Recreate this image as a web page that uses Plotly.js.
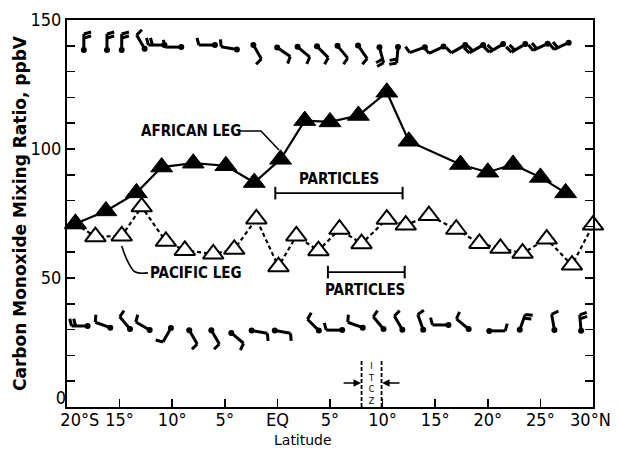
<!DOCTYPE html>
<html><head><meta charset="utf-8">
<script src="https://cdn.plot.ly/plotly-3.0.1.min.js"></script>
<style>html,body{margin:0;padding:0;background:#fff}#chart{width:619px;height:458px}</style>
</head><body><div id="chart"></div>
<script>
// ---- data ----
const africanLat = [-19.2, -16.3, -13.4, -11.0, -8.0, -4.9, -2.2, 0.3, 2.6, 5.0, 7.7, 10.4, 12.5, 17.4, 20.0, 22.4, 25.0, 27.4];
const africanCO  = [71, 76, 83, 93, 94.5, 93.5, 87, 96, 111, 110.5, 113, 122, 103, 94, 91, 94, 89, 83];

const pacificLat = [-19.2, -17.3, -14.8, -12.9, -10.6, -8.8, -6.1, -4.1, -2.0, 0.1, 1.8, 3.9, 5.9, 8.0, 10.4, 12.2, 14.4, 17.0, 19.2, 21.2, 23.3, 25.6, 28.0, 30.0];
const pacificCO  = [71, 66, 66.3, 77.6, 64.2, 60.7, 59.3, 61.1, 72.9, 54.4, 66.3, 60.6, 68.9, 63.3, 72.8, 70.5, 74.2, 68.9, 63.4, 61.5, 59.6, 65.1, 55, 70.5];

const xTickVals = [-20, -15, -10, -5, 0, 5, 10, 15, 20, 25, 30];
const xTickText = ['\u00a0\u00a0\u00a0\u00a0\u00a020°S', '15°', '10°', '5°', 'EQ', '5°', '10°', '15°', '20°', '25°', '30°N\u00a0'];
const yTickVals = [0, 10, 20, 30, 40, 50, 60, 70, 80, 90, 100, 110, 120, 130, 140, 150];
const yTickText = ['', '', '', '', '', '50', '', '', '', '', '100', '', '', '', '', '150'];
const yZeroTickVals = [0];
const yZeroTickText = ['0'];

// wind barbs (position, staff direction in degrees, number of feathers)
const topBarbLat = [-18.4, -16.2, -14.8, -13.0, -11.5, -9.9, -6.7, -4.6, -1.9, 0.6, 2.5, 4.3, 6.2, 8.1, 9.9, 11.4, 13.3, 15.1, 17.2, 18.9, 20.8, 22.9, 25.0, 27.0];
const topBarbCO  = [141.5, 141.5, 141.5, 141.5, 140.3, 139.5, 140.3, 139.1, 137.6, 137.6, 137.6, 137.6, 137.6, 137.6, 136.4, 136.4, 138.4, 138.4, 138.8, 138.8, 139.1, 139.1, 139.5, 139.9];
const topBarbDir = [90, 90, 90, 120, 180, 180, 180, 170, -60, -35, -40, -45, -50, -55, -75, -95, 200, 205, 210, 210, 210, 210, 205, 205];
const topBarbN   = [2, 2, 2, 1, 2, 1, 1, 1, 1, 1, 1, 1, 1, 1, 2, 2, 1, 1, 1, 2, 2, 2, 2, 2];
const topBarbSide = topBarbN.map(() => 1);

const botBarbLat = [-18.8, -16.6, -14.5, -12.8, -10.5, -8.0, -5.9, -3.8, -1.7, 0.5, 3.4, 5.4, 7.4, 9.6, 11.5, 13.6, 15.5, 17.6, 20.9, 23.3, 26.2, 28.8];
const botBarbCO  = [31.4, 31.8, 32.6, 31.4, 27.9, 27.1, 27.1, 26.7, 29.1, 29.1, 31.8, 29.8, 31.8, 32.6, 32.6, 32.9, 31.8, 32.2, 29.5, 32.9, 32.9, 32.6];
const botBarbDir = [180, 160, 130, 150, 240, -60, -60, -40, -10, -10, 135, 180, 160, 130, 120, 110, 180, 140, 0, 70, 100, 95];
const botBarbN   = [2, 1, 1, 1, 1, 1, 1, 1, 1, 1, 1, 1, 1, 1, 1, 1, 1, 1, 1, 2, 1, 2];
const botBarbSide = [1, 1, 1, 1, 1, 1, 1, 1, 1, 1, 1, 1, 1, 1, 1, 1, 1, 1, -1, 1, 1, 1];

const particlesAfricanLat = [-0.2, 11.9];
const particlesAfricanCO = 82.9;
const particlesPacificLat = [4.8, 12.1];
const particlesPacificCO = 52.3;
const itczLat = [8.0, 9.9];
const itczTopCO = 17.8;
const itczLabel = 'I<br>T<br>C<br>Z';

const africanLeaderLat = [-3.65, -1.56, 0.15];
const africanLeaderCO  = [107, 107, 99.6];
const pacificLeaderLat = [-12.3, -13.5, -14.2, -14.8];
const pacificLeaderCO  = [52, 52.3, 56.2, 62.4];

// ---- layout geometry ----
const W = 619, H = 458, M = {l: 67, r: 26, t: 20, b: 51, pad: 0};
const xRange = [-20, 30], yRange = [0, 150];
const pxLat = (W - M.l - M.r) / (xRange[1] - xRange[0]);
const pxCO = (H - M.t - M.b) / (yRange[1] - yRange[0]);
const narrow = 'Liberation Sans Narrow, DejaVu Sans Condensed, Arial Narrow, sans-serif';

function barbTraces(lat, co, dir, nf, side) {
  const xs = [], ys = [], bx = [], by = [];
  const L = 16, F = 7.5, S = 4;
  for (let i = 0; i < lat.length; i++) {
    const a = dir[i] * Math.PI / 180, ux = Math.cos(a), uy = Math.sin(a);
    const P = (dx, dy) => [lat[i] + dx / pxLat, co[i] + dy / pxCO];
    const b = P(-ux * L / 2, -uy * L / 2), t = P(ux * L / 2, uy * L / 2);
    xs.push(b[0], t[0], null); ys.push(b[1], t[1], null);
    const fa = a - side[i] * 75 * Math.PI / 180;
    for (let k = 0; k < nf[i]; k++) {
      const s = L / 2 - k * S;
      const p0 = P(ux * s, uy * s), p1 = P(ux * s + Math.cos(fa) * F, uy * s + Math.sin(fa) * F);
      xs.push(p0[0], p1[0], null); ys.push(p0[1], p1[1], null);
    }
    bx.push(b[0]); by.push(b[1]);
  }
  return [
    {x: xs, y: ys, mode: 'lines', line: {color: '#000', width: 3}, hoverinfo: 'skip', showlegend: false, cliponaxis: false},
    {x: bx, y: by, mode: 'markers', marker: {color: '#000', size: 6}, hoverinfo: 'skip', showlegend: false, cliponaxis: false}
  ];
}

const traces = [];
traces.push(...barbTraces(topBarbLat, topBarbCO, topBarbDir, topBarbN, topBarbSide));
traces.push(...barbTraces(botBarbLat, botBarbCO, botBarbDir, botBarbN, botBarbSide));

// leaders
traces.push({x: africanLeaderLat, y: africanLeaderCO, mode: 'lines', line: {color: '#000', width: 1.6}, hoverinfo: 'skip', showlegend: false});
traces.push({x: pacificLeaderLat, y: pacificLeaderCO, mode: 'lines', line: {color: '#000', width: 1.6, shape: 'spline'}, hoverinfo: 'skip', showlegend: false});

// particles bars
function bar(latPair, co) {
  return {x: latPair, y: [co, co], mode: 'lines+markers',
    line: {color: '#000', width: 1.8},
    marker: {symbol: 'line-ns', size: 9, line: {color: '#000', width: 2}},
    hoverinfo: 'skip', showlegend: false};
}
traces.push(bar(particlesAfricanLat, particlesAfricanCO));
traces.push(bar(particlesPacificLat, particlesPacificCO));

// ITCZ dashed lines
itczLat.forEach(l => traces.push({x: [l, l], y: [0, itczTopCO], mode: 'lines',
  line: {color: '#000', width: 1.8, dash: '4px,2px'}, hoverinfo: 'skip', showlegend: false}));

// series
traces.push({name: 'Pacific leg', x: pacificLat, y: pacificCO, mode: 'lines+markers',
  line: {color: '#000', width: 2.2, dash: '4px,3px'},
  marker: {symbol: 'triangle-up', size: 18, color: '#fff', line: {color: '#000', width: 2}},
  cliponaxis: false, showlegend: false});
traces.push({name: 'African leg', x: africanLat, y: africanCO, mode: 'lines+markers',
  line: {color: '#000', width: 2.2},
  marker: {symbol: 'triangle-up', size: 19, color: '#000', line: {color: '#000', width: 1}},
  cliponaxis: false, showlegend: false});
// carrier for the zero-label axis
traces.push({x: [null], y: [null], yaxis: 'y2', mode: 'markers', hoverinfo: 'skip', showlegend: false});

const annFont = {family: narrow, size: 15, color: '#000'};
const annotations = [
  {x: -8.2, y: 107, xref: 'x', yref: 'y', text: '<b>AFRICAN LEG</b>', showarrow: false, font: annFont},
  {x: -7.7, y: 51.8, xref: 'x', yref: 'y', text: '<b>PACIFIC LEG</b>', showarrow: false, font: annFont},
  {x: 5.9, y: 88.2, xref: 'x', yref: 'y', text: '<b>PARTICLES</b>', showarrow: false, font: annFont},
  {x: 8.3, y: 45.2, xref: 'x', yref: 'y', text: '<b>PARTICLES</b>', showarrow: false, font: annFont},
  {x: 2.4, y: 0, xref: 'x', yref: 'paper', yshift: -33, yanchor: 'middle', text: 'Latitude', showarrow: false,
    font: {family: 'DejaVu Sans', size: 14, color: '#000'}},
  {x: (itczLat[0] + itczLat[1]) / 2, y: itczTopCO / 2 + 0.4, xref: 'x', yref: 'y', text: itczLabel, showarrow: false,
    borderpad: 0, font: {family: narrow, size: 9, color: '#000'}},
  // ITCZ arrows
  {x: itczLat[0] - 0.05, y: 9.3, ax: itczLat[0] - 1.85, ay: 9.3, xref: 'x', yref: 'y', axref: 'x', ayref: 'y',
    showarrow: true, arrowhead: 2, arrowsize: 1, arrowwidth: 1.5, arrowcolor: '#000', text: ''},
  {x: itczLat[1] + 0.05, y: 9.3, ax: itczLat[1] + 1.85, ay: 9.3, xref: 'x', yref: 'y', axref: 'x', ayref: 'y',
    showarrow: true, arrowhead: 2, arrowsize: 1, arrowwidth: 1.5, arrowcolor: '#000', text: ''}
];

const tickFont = {family: narrow, size: 18, color: '#000'};
const layout = {
  width: W, height: H, margin: M,
  paper_bgcolor: '#fff', plot_bgcolor: '#fff',
  font: {family: narrow, color: '#000'},
  xaxis: {range: xRange, tickvals: xTickVals, ticktext: xTickText, ticks: 'inside', ticklen: 8, tickwidth: 1.5,
    tickcolor: '#000', showline: true, linecolor: '#000', linewidth: 2, mirror: true, showgrid: false, zeroline: false,
    tickfont: tickFont, ticklabelstandoff: -5, fixedrange: true},
  yaxis: {range: yRange, tickvals: yTickVals, ticktext: yTickText, ticks: 'inside', ticklen: 8, tickwidth: 1.5,
    tickcolor: '#000', showline: true, linecolor: '#000', linewidth: 2, mirror: 'ticks', showgrid: false, zeroline: false,
    tickfont: tickFont, fixedrange: true,
    title: {text: '<b>Carbon Monoxide Mixing Ratio, ppbV</b>', font: {family: 'DejaVu Sans', size: 17, color: '#000'}, standoff: 0}},
  yaxis2: {overlaying: 'y', side: 'left', range: yRange, tickvals: yZeroTickVals, ticktext: yZeroTickText,
    ticks: '', showline: false, showgrid: false, zeroline: false, tickfont: tickFont, ticklabelshift: -9, fixedrange: true},
  annotations: annotations,
  showlegend: false
};

Plotly.newPlot('chart', traces, layout, {staticPlot: true, displayModeBar: false});
</script>
</body></html>
